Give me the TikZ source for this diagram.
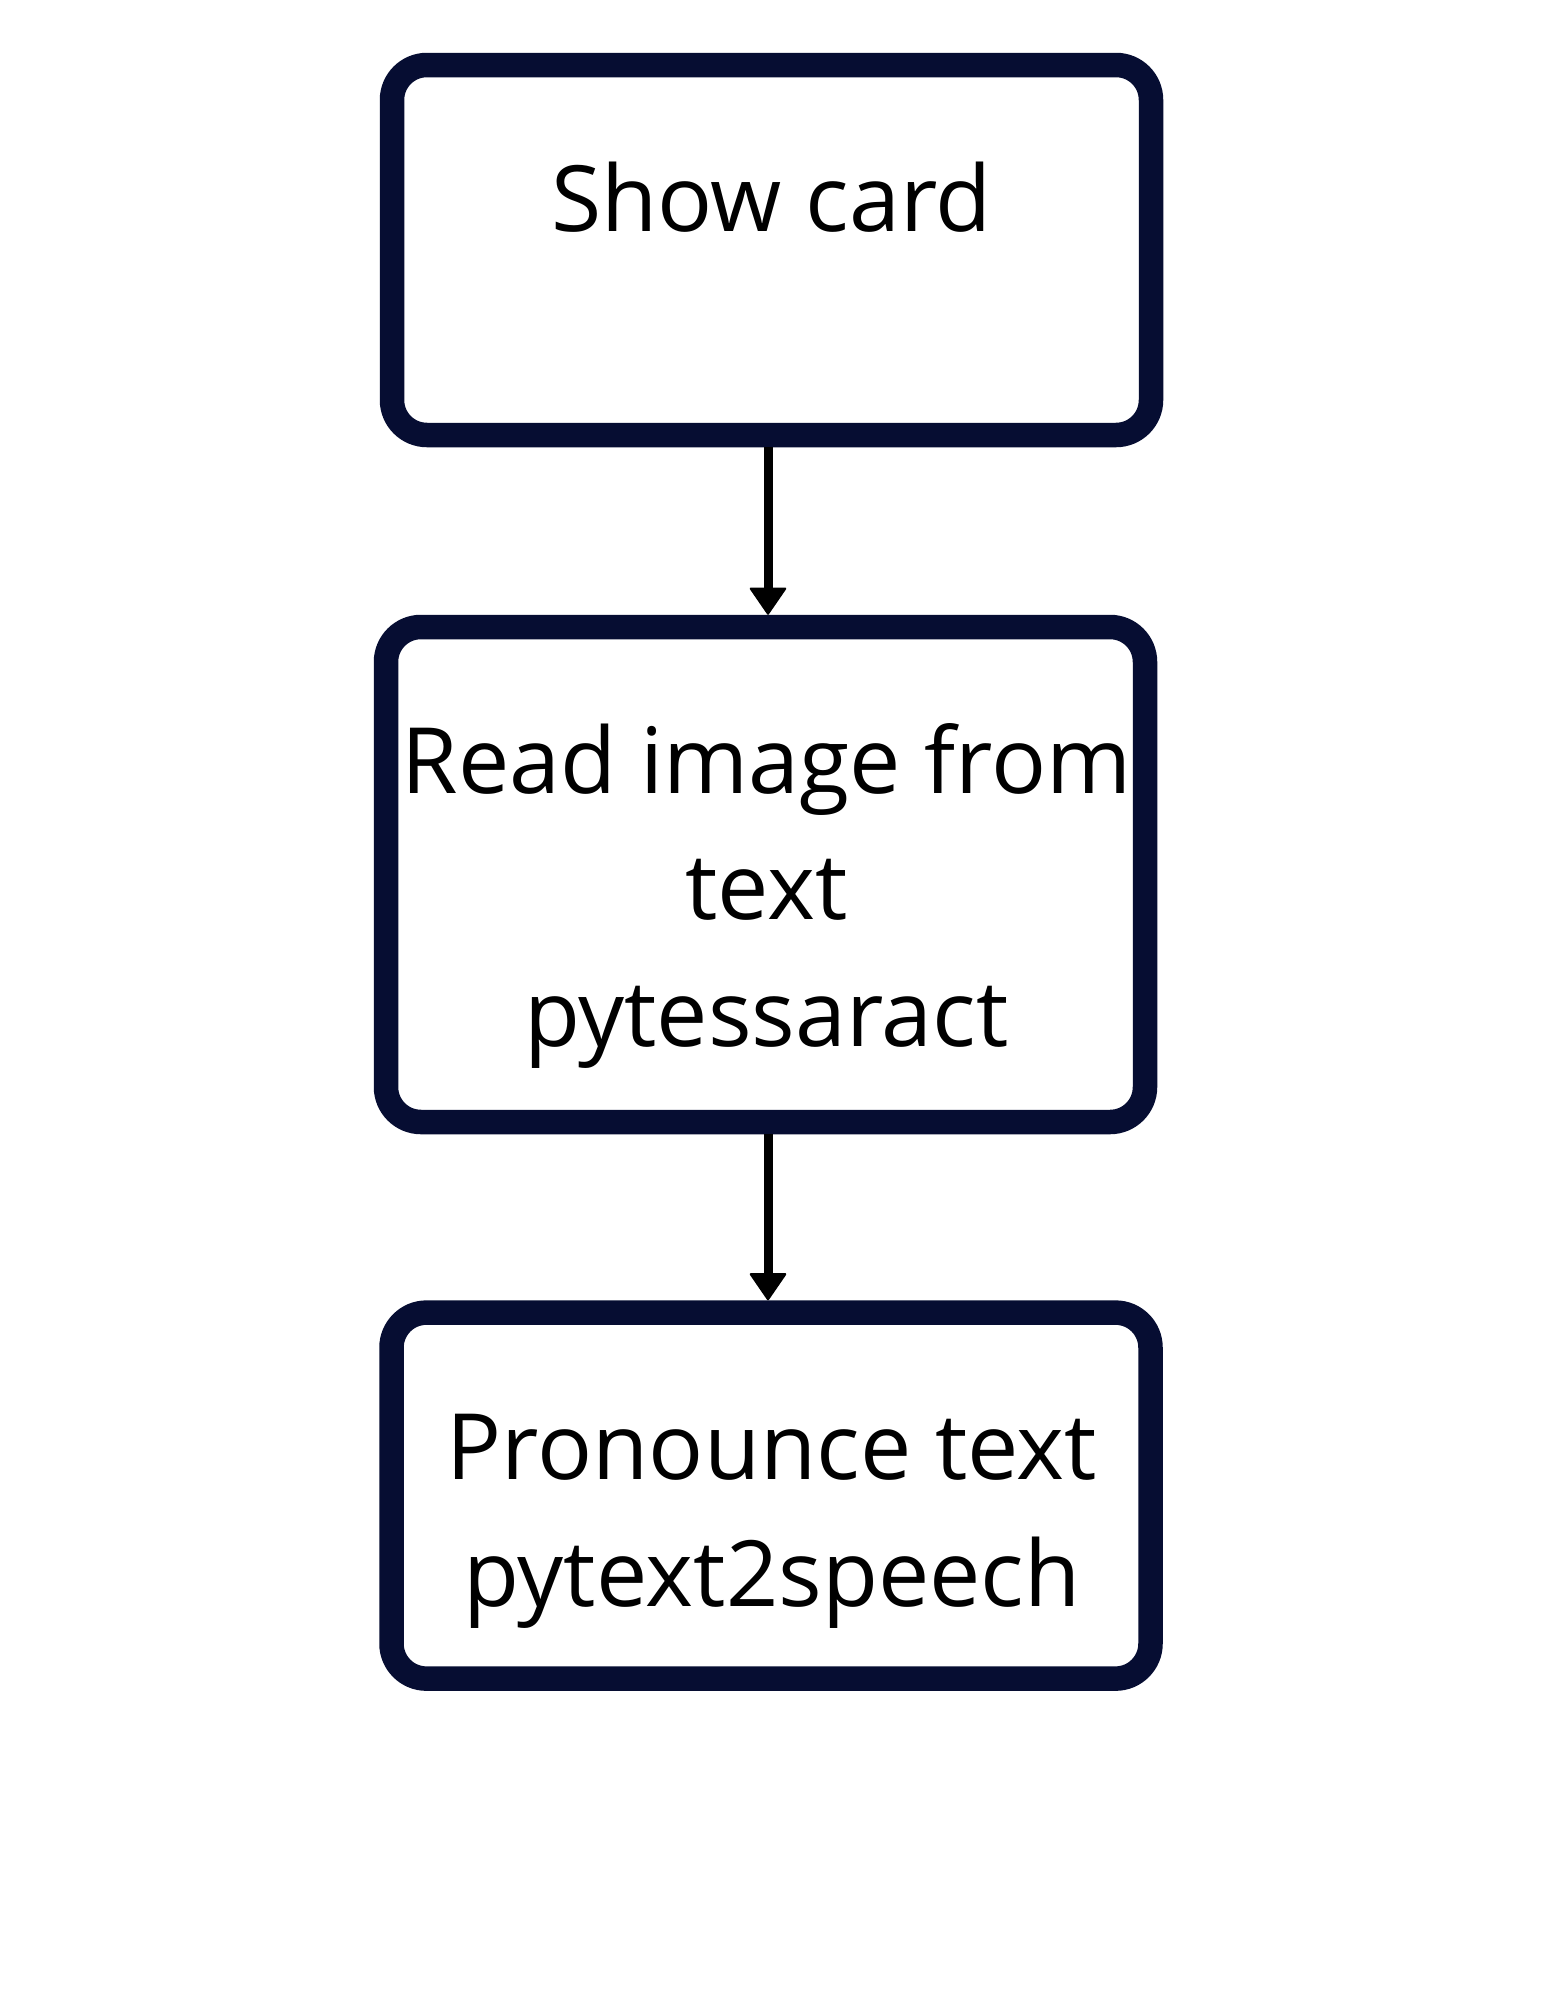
\documentclass[tikz,border=0pt]{standalone}
\usepackage{fontspec}
\setmainfont{Open Sans}
\usetikzlibrary{arrows.meta}
\definecolor{boxnavy}{RGB}{6,13,50}
\tikzset{
  flowbox/.style={draw=boxnavy, line width=24.5pt, rounded corners=35pt, fill=white,
    inner sep=0pt, minimum width=759pt},
  boxtext/.style={anchor=base, inner sep=0pt, text=black,
    font=\fontsize{91.5}{125}\selectfont},
  flowarrow/.style={draw=black, line width=9pt,
    -{Triangle[width=38pt,length=28pt,line width=2pt,round]}}
}
\begin{document}
\begin{tikzpicture}[x=1pt,y=-1pt]
\path[fill=white] (0,0) rectangle (1545,2000);
\useasboundingbox (0,0) rectangle (1545,2000);
\node[flowbox, minimum height=370pt] (b1) at (771.5,250) {};
\node[flowbox, minimum height=495pt] (b2) at (765.5,874.5) {};
\node[flowbox, minimum height=366pt] (b3) at (771,1495.6) {};
\coordinate (ax) at (768,0);
\node[boxtext] (t1) at (771.5,231) {Show card};
\node[boxtext] (t2a) at (766.5,793) {Read image from};
\node[boxtext] (t2b) at (766.5,919.5) {text};
\node[boxtext] (t2c) at (766.5,1046.5) {pytessaract};
\node[boxtext] (t3a) at (772,1479) {Pronounce text};
\node[boxtext] (t3b) at (772,1606) {pytext2speech};
\draw[flowarrow] (b1.south -| ax) -- (b2.north -| ax);
\draw[flowarrow] (b2.south -| ax) -- (b3.north -| ax);
\end{tikzpicture}
\end{document}
